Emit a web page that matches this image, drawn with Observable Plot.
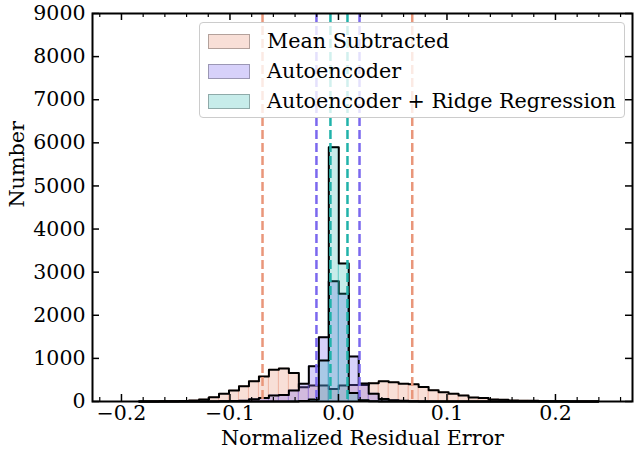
<!DOCTYPE html>
<html><head><meta charset="utf-8">
<script src="https://cdn.jsdelivr.net/npm/d3@7"></script>
<script src="https://cdn.jsdelivr.net/npm/@observablehq/plot@0.6"></script>
<style>
body{margin:0;background:#fff;}
#wrap{position:relative;width:634px;height:453px;font-family:"DejaVu Serif",serif;}
.legend{position:absolute;left:199px;top:22px;width:426px;height:96px;background:rgba(255,255,255,0.8);border:1px solid #cccccc;border-radius:4px;box-sizing:border-box;}
.item{position:absolute;left:0;height:30px;display:flex;align-items:center;}
.sw{width:42px;height:15px;margin-left:8px;margin-right:17px;box-sizing:border-box;border:1px solid rgba(0,0,0,0.28);}
.lbl{font-size:20.7px;color:#000;white-space:nowrap;}
</style></head><body><div id="wrap"></div>
<script>
// ---- data ----
const binEdges = [-0.1837,-0.1745,-0.1653,-0.1561,-0.1469,-0.1377,-0.1285,-0.1193,-0.1101,-0.1009,
  -0.0917,-0.0825,-0.0733,-0.0641,-0.0549,-0.0457,-0.0365,-0.0273,-0.0181,-0.0089,
  0.0003,0.0095,0.0187,0.0279,0.0371,0.0463,0.0555,0.0647,0.0739,0.0831,
  0.0923,0.1015,0.1107,0.1199,0.1291,0.1383,0.1475,0.1567,0.1659,0.1751,
  0.1843,0.1935,0.2027,0.2119,0.2211,0.2303,0.2395];
const meanSubtracted = [1,2,3,5,10,25,46,100,178,255,355,471,580,735,765,660,330,370,370,290,
  370,380,380,425,470,445,410,400,335,260,216,178,140,90,80,46,40,23,20,15,8,5,3,2,1,1];
const autoencoder = [0,0,0,0,0,0,0,0,5,10,20,50,80,140,150,255,410,820,1490,2790,
  2500,1045,415,180,60,30,15,5,2,0,0,0,0,0,0,0,0,0,0,0,0,0,0,0,0,0];
const autoencoderRidge = [0,0,0,0,0,0,0,0,0,0,0,0,0,0,0,2,10,45,950,5900,
  3200,200,30,5,1,0,0,0,0,0,0,0,0,0,0,0,0,0,0,0,0,0,0,0,0,0];
const seriesNames = ["Mean Subtracted","Autoencoder","Autoencoder + Ridge Regression"];
const seriesColors = ["#E9967A","#7B68EE","#20B2AA"];
const seriesAlpha = [0.3,0.3,0.25];
const dashMean = [-0.070, 0.068];
const dashAuto = [-0.0203, 0.0194];
const dashRidge = [-0.0074, 0.0083];
const xMajorTicks = [-0.2,-0.1,0.0,0.1,0.2];
const xMinorTicks = [-0.22,-0.18,-0.16,-0.14,-0.12,-0.08,-0.06,-0.04,-0.02,0.02,0.04,0.06,0.08,0.12,0.14,0.16,0.18,0.22,0.24,0.26];
const yTicks = [0,1000,2000,3000,4000,5000,6000,7000,8000,9000];
const xLabel = "Normalized Residual Error";
const yLabel = "Number";

// ---- build ----
const counts = [meanSubtracted, autoencoder, autoencoderRidge];
const series = counts.map((c, si) => {
  const bars = c.map((v, i) => ({x1: binEdges[i], x2: binEdges[i+1], y: v})).filter(d => d.y > 0);
  const outline = [{x: binEdges[0], y: 0}, ...c.map((v, i) => ({x: binEdges[i], y: v})), {x: binEdges[c.length], y: 0}];
  return {bars, outline, color: seriesColors[si], alpha: seriesAlpha[si]};
});
const W = 634, H = 453, mL = 92, mR = 2, mT = 13, mB = 52;
const fw = W - mL - mR, fh = H - mT - mB;
const FS = 20.5;
const fmt = d => (d < 0 ? "\u2212" : "") + Math.abs(d).toFixed(1);

const marks = [];
series.forEach(s => {
  marks.push(Plot.rect(s.bars, {x1: "x1", x2: "x2", y1: 0, y2: "y", fill: s.color, fillOpacity: s.alpha, stroke: s.color, strokeOpacity: 0.35, strokeWidth: 1}));
  marks.push(Plot.line(s.outline, {x: "x", y: "y", curve: "step-after", stroke: "black", strokeWidth: 2}));
});
[[dashMean, 0], [dashAuto, 1], [dashRidge, 2]].forEach(([vals, i]) => {
  marks.push(Plot.ruleX(vals, {x: d => d, stroke: seriesColors[i], strokeWidth: 2.5, strokeDasharray: "9,4"}));
});
// inward ticks on all four sides
marks.push(Plot.tickX(xMajorTicks, {x: d => d, insetTop: fh - 7, stroke: "black", strokeWidth: 1.5}));
marks.push(Plot.tickX(xMajorTicks, {x: d => d, insetBottom: fh - 7, stroke: "black", strokeWidth: 1.5}));
marks.push(Plot.tickX(xMinorTicks, {x: d => d, insetTop: fh - 4, stroke: "black", strokeWidth: 1.2}));
marks.push(Plot.tickX(xMinorTicks, {x: d => d, insetBottom: fh - 4, stroke: "black", strokeWidth: 1.2}));
marks.push(Plot.tickY(yTicks, {y: d => d, insetRight: fw - 7, stroke: "black", strokeWidth: 1.5}));
marks.push(Plot.tickY(yTicks, {y: d => d, insetLeft: fw - 7, stroke: "black", strokeWidth: 1.5}));
marks.push(Plot.axisX({ticks: xMajorTicks, tickSize: 0, tickPadding: 4, tickFormat: fmt, label: null, fontSize: FS}));
marks.push(Plot.axisY({ticks: yTicks, tickSize: 0, tickPadding: 7, tickFormat: d => String(d), label: null, fontSize: FS}));
marks.push(Plot.text([xLabel], {frameAnchor: "bottom", dy: 43, text: d => d, fontSize: 20.7, fill: "black"}));
marks.push(Plot.text([yLabel], {frameAnchor: "left", dx: -75, rotate: -90, text: d => d, fontSize: 20.7, fill: "black"}));
marks.push(Plot.frame({stroke: "black", strokeWidth: 2}));

const chart = Plot.plot({
  width: W, height: H,
  marginLeft: mL, marginRight: mR, marginTop: mT, marginBottom: mB,
  style: {fontFamily: "DejaVu Serif", fontSize: FS + "px", color: "black", background: "white"},
  x: {domain: [-0.2267, 0.271]},
  y: {domain: [0, 9000]},
  marks
});
const wrap = document.getElementById("wrap");
wrap.appendChild(chart);

// legend overlay
const leg = document.createElement("div");
leg.className = "legend";
seriesNames.forEach((name, i) => {
  const it = document.createElement("div");
  it.className = "item";
  it.style.top = (3 + 30 * i) + "px";
  const sw = document.createElement("div");
  sw.className = "sw";
  const c = d3.color(seriesColors[i]);
  c.opacity = seriesAlpha[i];
  sw.style.background = c.formatRgb();
  const lb = document.createElement("span");
  lb.className = "lbl";
  lb.textContent = name;
  it.appendChild(sw); it.appendChild(lb);
  leg.appendChild(it);
});
wrap.appendChild(leg);
</script></body></html>
